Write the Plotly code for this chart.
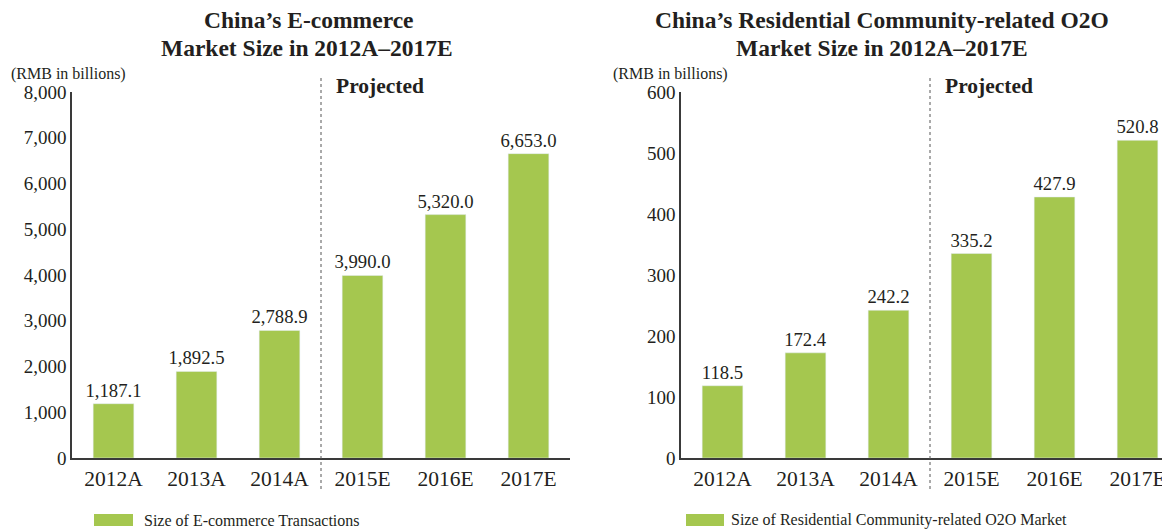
import plotly.graph_objects as go

categories = ["2012A", "2013A", "2014A", "2015E", "2016E", "2017E"]
ecommerce_values = [1187.1, 1892.5, 2788.9, 3990.0, 5320.0, 6653.0]
o2o_values = [118.5, 172.4, 242.2, 335.2, 427.9, 520.8]
left_title = ["China’s E-commerce", "Market Size in 2012A–2017E"]
right_title = ["China’s Residential Community-related O2O", "Market Size in 2012A–2017E"]
unit_label = "(RMB in billions)"
projected_label = "Projected"
left_legend = "Size of E-commerce Transactions"
right_legend = "Size of Residential Community-related O2O Market"

OFF = 8  # page body margin
W, H = 1170 - OFF, 529 - OFF
TOP, BOTTOM = 92 - OFF, 458 - OFF
PH = BOTTOM - TOP
BAR = "#A5C74F"
TXT = "#231F20"
FONT = "Liberation Serif"


def px(p):
    return (p - OFF) / W


def py(p):
    return (BOTTOM - (p - OFF)) / PH


fig = go.Figure()
for vals, xa, ya in [(ecommerce_values, "x", "y"), (o2o_values, "x2", "y2")]:
    fig.add_trace(go.Bar(x=categories, y=vals, marker_color=BAR, width=0.49,
                         texttemplate="%{y:,.1f}", textposition="outside", cliponaxis=False,
                         constraintext="none",
                         textfont=dict(family=FONT, size=18.7, color=TXT), showlegend=False,
                         xaxis=xa, yaxis=ya))

axis_common = dict(showgrid=False, zeroline=False, showline=True, linecolor="#3a3a3a", linewidth=1.5,
                   ticks="", tickfont=dict(family=FONT, size=19, color=TXT))
xax = dict(axis_common, tickfont=dict(family=FONT, size=21.5, color=TXT), type="category")

fig.update_layout(
    width=W, height=H, paper_bgcolor="white", plot_bgcolor="white",
    margin=dict(l=0, r=0, t=TOP, b=H - BOTTOM),
    xaxis=dict(xax, domain=[px(72), px(570)], range=[-0.5, 5.5], anchor="y"),
    yaxis=dict(axis_common, domain=[0, 1], range=[0, 8000], dtick=1000, tickformat=",", anchor="x"),
    xaxis2=dict(xax, domain=[px(681), 1.0], range=[-0.5, (1170 - 681) / 83 - 0.5], anchor="y2"),
    yaxis2=dict(axis_common, domain=[0, 1], range=[0, 600], dtick=100, tickformat=",", anchor="x2"),
    font=dict(family=FONT, color=TXT),
)


def ann(text, x, y, size, xanchor="left"):
    return dict(text=text, x=px(x), y=py(y), xref="paper", yref="paper", xanchor=xanchor,
                yanchor="middle", showarrow=False, align="center",
                font=dict(family=FONT, size=size, color=TXT))


annotations = [
    ann("<b>" + left_title[0] + "</b>", 309, 20, 23.5, "center"),
    ann("<b>" + left_title[1] + "</b>", 307, 48, 23.5, "center"),
    ann("<b>" + right_title[0] + "</b>", 882, 20, 23.5, "center"),
    ann("<b>" + right_title[1] + "</b>", 882, 48, 23.5, "center"),
    ann(unit_label, 9, 74, 16),
    ann(unit_label, 611, 74, 16),
    ann("<b>" + projected_label + "</b>", 334, 86, 21.5),
    ann("<b>" + projected_label + "</b>", 943, 86, 21.5),
    ann(left_legend, 142, 520, 16),
    ann(right_legend, 729, 520, 16),
]
fig.update_layout(annotations=annotations)

shapes = [
    dict(type="line", xref="x", yref="paper", x0=2.5, x1=2.5, y0=py(489), y1=py(78),
         line=dict(color="#555", width=1, dash="dot")),
    dict(type="line", xref="x2", yref="paper", x0=2.5, x1=2.5, y0=py(489), y1=py(78),
         line=dict(color="#555", width=1, dash="dot")),
    dict(type="rect", xref="paper", yref="paper", x0=px(94), x1=px(133), y0=py(526), y1=py(514),
         fillcolor=BAR, line=dict(width=0)),
    dict(type="rect", xref="paper", yref="paper", x0=px(686), x1=px(724), y0=py(526), y1=py(514),
         fillcolor=BAR, line=dict(width=0)),
]
fig.update_layout(shapes=shapes)

fig.write_html("out.html")
